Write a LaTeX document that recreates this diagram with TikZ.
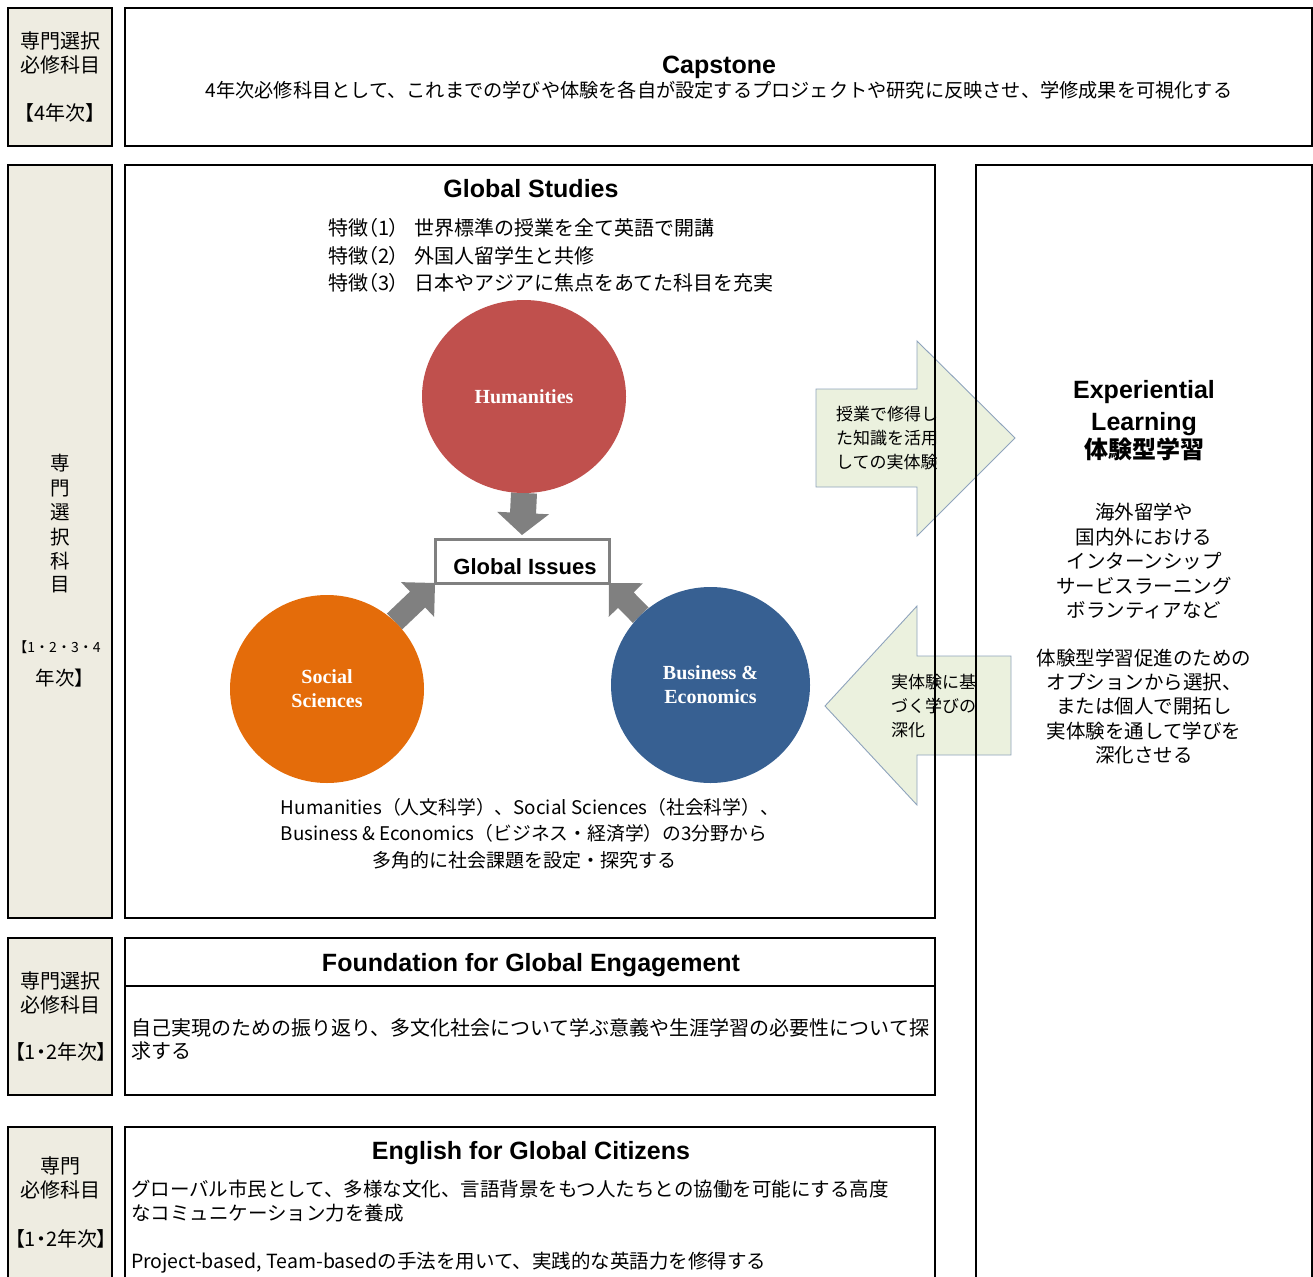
\documentclass[tikz,border=0pt]{standalone}
\usepackage{fontspec}
\setmainfont{Noto Sans CJK JP}
\newfontfamily\jpp{Noto Sans CJK JP}[RawFeature=+palt]
\newfontfamily\lat{Liberation Sans}
\newfontfamily\ser{Liberation Serif}
\usetikzlibrary{shapes.geometric,calc,backgrounds}
\definecolor{labelbg}{HTML}{EEECE1}
\definecolor{humred}{HTML}{C0504D}
\definecolor{socorange}{HTML}{E46C0A}
\definecolor{busblue}{HTML}{376092}
\definecolor{arrgray}{HTML}{808080}
\definecolor{bafill}{HTML}{EBF1DE}
\definecolor{baline}{HTML}{8EA3BC}
\newcommand\myblockarrow[5]{%
  \coordinate (bah) at ($(#2)!#5!(#1)$);
  \fill[arrgray] ($(#1)!#3!90:(#2)$) -- ($(bah)!#3!90:(#2)$) -- ($(bah)!#4!90:(#2)$)
    -- (#2) -- ($(bah)!#4!-90:(#2)$) -- ($(bah)!#3!-90:(#2)$) -- ($(#1)!#3!-90:(#2)$) -- cycle;}
\begin{document}
\begin{tikzpicture}[x=1pt,y=-1pt,
  every node/.style={inner sep=0pt, outer sep=0pt},
  ct/.style={anchor=base, font=\fontsize{19.5}{24}\selectfont},
  lt/.style={anchor=base west, font=\fontsize{19.5}{24}\selectfont},
  ttl/.style={anchor=base, font=\lat\bfseries\fontsize{25}{30}\selectfont},
  lbl/.style={draw=black, line width=1.3pt, fill=labelbg, anchor=north west},
  frm/.style={draw=black, line width=1.3pt, anchor=north west},
  sz/.style 2 args={minimum width=#1pt, minimum height=#2pt},
  barrow/.style={fill=bafill, draw=baline, line width=0.9pt, line join=miter},
  circ/.style={ellipse, text=white, align=center, font=\ser\bfseries\fontsize{20}{24}\selectfont},
  f20/.style={font=\fontsize{20}{24}\selectfont},
  f17/.style={font=\fontsize{17}{20}\selectfont}]
\useasboundingbox (0,0) rectangle (1313,1276);
\clip (0,0) rectangle (1313,1276);
% block arrows between Global Studies and Experiential Learning
\draw[barrow] (816,389) -- (917,389) -- (917,341) -- (1015,438) -- (917,536) -- (917,487) -- (816,487) -- cycle;
\draw[barrow] (825,706) -- (917,606) -- (917,656) -- (1011,656) -- (1011,755) -- (917,755) -- (917,805) -- cycle;
% boxes
\node[lbl, sz={104}{138}] (lab1) at (8,8) {};
\node[frm, sz={1187}{138}] (cap) at (125,8) {};
\node[lbl, sz={104}{753}] (lab2) at (8,165) {};
\node[frm, sz={810}{753}] (gs) at (125,165) {};
\node[frm, sz={336}{1130}] (exp) at (976,165) {};
\node[lbl, sz={104}{157}] (lab3) at (8,938) {};
\node[frm, sz={810}{157}] (fnd) at (125,938) {};
\draw[line width=1.3pt] (125,986) -- (935,986);
\node[lbl, sz={104}{160}] (lab4) at (8,1127) {};
\node[frm, sz={810}{160}] (eng) at (125,1127) {};
% arrow texts
\node[lt, f17] (ra1) at (836,420.5) {授業で修得し};
\node[lt, f17] (ra2) at (836,444.5) {た知識を活用};
\node[lt, f17] (ra3) at (836,468.5) {しての実体験};
\node[lt, f17] (la1) at (891,688.5) {実体験に基};
\node[lt, f17] (la2) at (891,712.5) {づく学びの};
\node[lt, f17] (la3) at (891,736.5) {深化};
% label 1
\node[ct, f20] (l1a) at (60,48.5) {専門選択};
\node[ct, f20] (l1b) at (60,72.5) {必修科目};
\node[ct, f20] (l1c) at (60,120.5) {\jpp 【4年次】};
% capstone
\node[ttl] (capT) at (719,74) {Capstone};
\node[ct, font=\fontsize{19.2}{23}\selectfont] (capS) at (719,98) {4年次必修科目として、これまでの学びや体験を各自が設定するプロジェクトや研究に反映させ、学修成果を可視化する};
% label 2
\node[ct] (l2a) at (60,470.4) {専};
\node[ct] (l2b) at (60,495.4) {門};
\node[ct] (l2c) at (60,519.4) {選};
\node[ct] (l2d) at (60,544.4) {択};
\node[ct] (l2e) at (60,568.4) {科};
\node[ct] (l2f) at (60,591.4) {目};
\node[ct, font=\fontsize{14}{16}\selectfont] (l2g) at (57,652) {【1・2・3・4};
\node[ct] (l2h) at (60,685.4) {\jpp 年次】};
% global studies
\node[ttl] (gsT) at (531,197) {Global Studies};
\node[lt, f20] (gs1) at (328,235.5) {\makebox[87pt][l]{\jpp 特徴（1）}世界標準の授業を全て英語で開講};
\node[lt, f20] (gs2) at (328,263.5) {\makebox[87pt][l]{\jpp 特徴（2）}外国人留学生と共修};
\node[lt, f20] (gs3) at (328,290.5) {\makebox[87pt][l]{\jpp 特徴（3）}日本やアジアに焦点をあてた科目を充実};
\node[circ, fill=humred, sz={204}{193}] (hum) at (524,396.5) {Humanities};
\node[circ, fill=socorange, sz={194}{188}] (soc) at (327,689) {Social\\Sciences};
\node[circ, fill=busblue, sz={199}{196}] (bus) at (710.5,685) {Business \&\\Economics};
\node[draw=arrgray, line width=3pt, fill=white, sz={174}{44}] (gi) at (522,561) {};
\node[anchor=base, font=\lat\bfseries\fontsize{22}{26}\selectfont] (giT) at ($(gi.center)+(3,13)$) {Global Issues};
\coordinate (gitip) at ($(gi.north)+(0,-4)$);
\begin{scope}[on background layer]
\myblockarrow{hum.south}{gitip}{13pt}{26pt}{22pt}
\myblockarrow{soc.45}{gi.south west}{11pt}{24pt}{24pt}
\myblockarrow{bus.135}{gi.south east}{11pt}{24pt}{24pt}
\end{scope}
\node[ct, font=\fontsize{18.8}{23}\selectfont] (gb1) at (530,814) {Humanities（人文科学）、Social Sciences（社会科学）、};
\node[ct, font=\fontsize{18.8}{23}\selectfont] (gb2) at (524,840) {Business \& Economics（ビジネス・経済学）の3分野から};
\node[ct, font=\fontsize{19}{23}\selectfont] (gb3) at (524,867) {多角的に社会課題を設定・探究する};
% experiential
\node[ttl] (exT1) at (1144,398) {Experiential};
\node[ttl] (exT2) at (1144,430) {Learning};
\node[ct, font=\bfseries\fontsize{24}{30}\selectfont] (exT3) at (1144,458.5) {体験型学習};
\node[ct] (ex1) at (1144,519.4) {海外留学や};
\node[ct] (ex2) at (1144,544.4) {国内外における};
\node[ct] (ex3) at (1144,568.4) {インターンシップ};
\node[ct] (ex4) at (1144,593.4) {サービスラーニング};
\node[ct] (ex5) at (1144,617.4) {ボランティアなど};
\node[ct] (ex6) at (1144,665.4) {体験型学習促進のための};
\node[ct] (ex7) at (1144,689.4) {オプションから選択、};
\node[ct] (ex8) at (1144,713.4) {または個人で開拓し};
\node[ct] (ex9) at (1144,738.4) {実体験を通して学びを};
\node[ct] (ex10) at (1144,762.4) {深化させる};
% label 3 and foundation
\node[ct, f20] (l3a) at (60,988.5) {専門選択};
\node[ct, f20] (l3b) at (60,1012.5) {必修科目};
\node[ct, f20] (l3c) at (61,1059.5) {\jpp 【1・2年次】};
\node[ttl] (fnT) at (531,971) {Foundation for Global Engagement};
\node[lt, f20] (fn1) at (131,1035.6) {自己実現のための振り返り、多文化社会について学ぶ意義や生涯学習の必要性について探};
\node[lt, f20] (fn2) at (131,1058.6) {求する};
% label 4 and english
\node[ct, f20] (l4a) at (60,1173.5) {専門};
\node[ct, f20] (l4b) at (60,1197.5) {必修科目};
\node[ct, f20] (l4c) at (61,1246.5) {\jpp 【1・2年次】};
\node[ttl] (enT) at (531,1159) {English for Global Citizens};
\node[lt] (en1) at (131,1196.4) {グローバル市民として、多様な文化、言語背景をもつ人たちとの協働を可能にする高度};
\node[lt] (en2) at (131,1220.4) {なコミュニケーション力を養成};
\node[lt] (en3) at (131,1268.4) {Project-based, Team-basedの手法を用いて、実践的な英語力を修得する};
\end{tikzpicture}
\end{document}
